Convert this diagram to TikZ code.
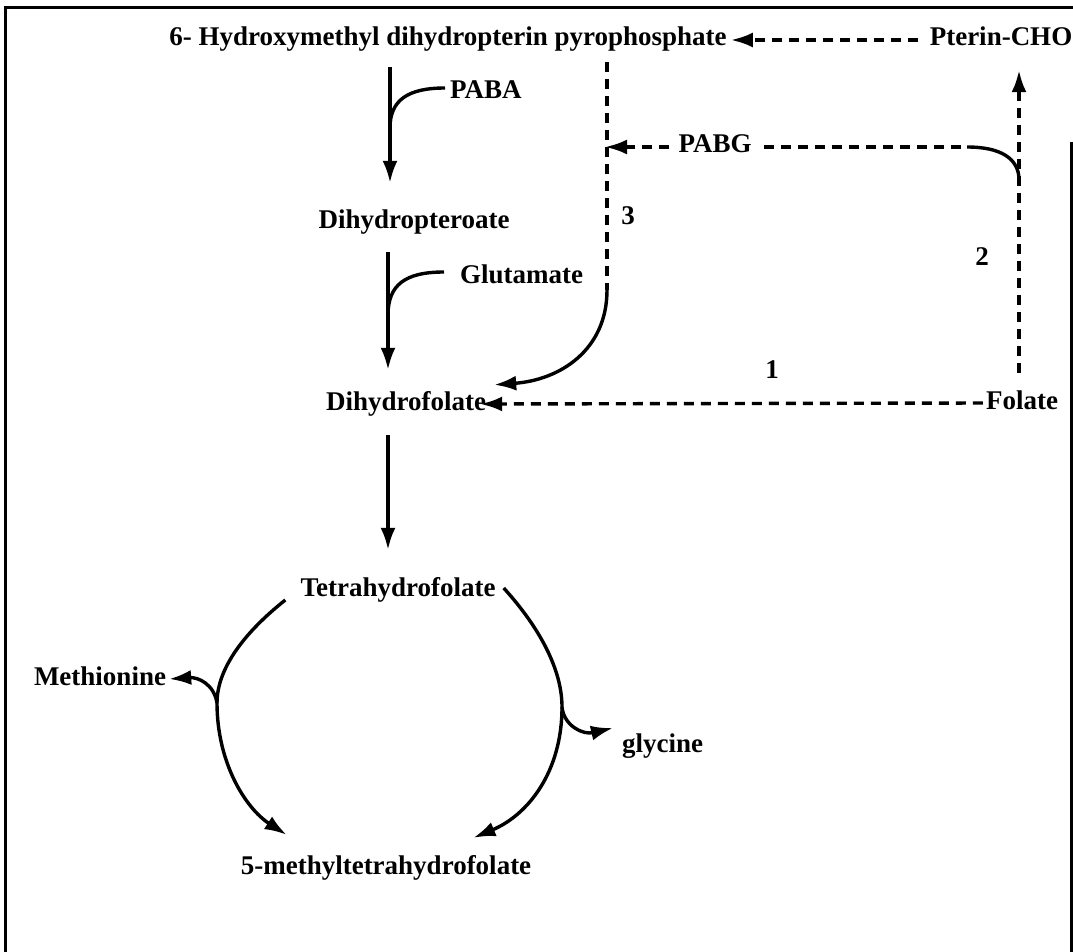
\documentclass[tikz,border=0pt]{standalone}
\usepackage{fontspec}
\setmainfont{Liberation Serif}
\usetikzlibrary{arrows.meta}
\begin{document}
\begin{tikzpicture}[x=1pt,y=-1pt,
  lbl/.style={font=\fontsize{27}{30}\selectfont\bfseries, inner sep=0pt, text height=18pt, text depth=6pt},
  ln/.style={line width=3.4pt},
  arr/.style={line width=3.4pt, -{Latex[length=22pt,width=15pt]}},
  dsh/.style={dash pattern=on 10pt off 7pt}]
\useasboundingbox (0,0) rectangle (1073,952);
% frame
\draw[line width=3pt] (5,952) -- (5,8) -- (1073,8);
\draw[line width=3pt] (1071,142) -- (1071,952);
% nodes
\node[lbl] (hmdp) at (448,40) {6- Hydroxymethyl dihydropterin pyrophosphate};
\node[lbl] (pterin) at (1001,40) {Pterin-CHO};
\node[lbl, anchor=west] (paba) at (450,93) {PABA};
\node[lbl] (dhp) at (414,222) {Dihydropteroate};
\node[lbl, anchor=west] (glu) at (460,277) {Glutamate};
\node[lbl] (dhf) at (406,404) {Dihydrofolate};
\node[lbl] (pabg) at (715,147) {PABG};
\node[lbl] (folate) at (1022,403) {Folate};
\node[lbl] (n3) at (628,219) {3};
\node[lbl] (n2) at (982,259) {2};
\node[lbl] (n1) at (772,372) {1};
\node[lbl] (thf) at (398,590) {Tetrahydrofolate};
\node[lbl] (met) at (100,679) {Methionine};
\node[lbl, anchor=west] (gly) at (622,746) {glycine};
\node[lbl] (mthf) at (386,868) {5-methyltetrahydrofolate};
% helper coordinates
\coordinate (stem) at (390,0);
\coordinate (v3) at (607,290);
\coordinate (j1) at (390,128);
\coordinate (j0) at (388,315);
\coordinate (k2) at (967,147);
\coordinate (j2) at (1019,180);
\coordinate (jl) at (217,703);
\coordinate (jr) at (562,707);
% main chain
\draw[arr, shorten <=15pt, shorten >=27pt] (hmdp.south -| stem) -- (dhp.north -| stem);
\draw[ln] ([shift={(-5pt,5pt)}]paba.west) .. controls (408,88) and (390,100) .. (j1);
\draw[arr, shorten <=18pt, shorten >=22pt] (dhp.south -| j0) -- (dhf.north -| j0);
\draw[ln] ([shift={(-16pt,5pt)}]glu.west) .. controls (405,272) and (388,285) .. (j0);
\draw[arr, shorten <=19pt, shorten >=28pt] (dhf.south -| j0) -- (thf.north -| j0);
% salvage pathway
\draw[arr, dsh, shorten <=12pt, shorten >=4pt] (pterin.west) -- (hmdp.east);
\draw[dsh, ln, shorten <=10pt] (hmdp.south -| v3) -- (v3);
\draw[arr] (v3) .. controls (607,350) and (560,380) .. ([shift={(8pt,7pt)}]dhf.north east);
\draw[arr, dsh, shorten <=9pt, shorten >=-2pt] (pabg.west) -- (pabg.west -| v3);
\draw[dsh, ln, shorten <=12pt] (pabg.east) -- (k2);
\draw[ln] (k2) .. controls (1000,147) and (1019,158) .. (j2);
\draw[arr, dsh, shorten <=18pt, shorten >=18pt] (folate.north -| j2) -- (pterin.south -| j2);
\draw[arr, dsh, shorten <=3pt, shorten >=-6pt] (folate.west) -- (dhf.east);
% cycle
\draw[ln] ([shift={(-15pt,-10pt)}]thf.west) .. controls (245,632) and (217,668) .. (jl);
\draw[arr] (jl) .. controls (217,762) and (245,808) .. ([shift={(46pt,21pt)}]mthf.north west);
\draw[arr] (jl) .. controls (214,684) and (198,677) .. ([xshift=3pt]met.east);
\draw[ln] ([shift={(8pt,2pt)}]thf.east) .. controls (540,628) and (562,670) .. (jr);
\draw[arr] (jr) .. controls (562,772) and (528,815) .. ([shift={(-58pt,18pt)}]mthf.north east);
\draw[arr] (jr) .. controls (564,726) and (583,735) .. ([shift={(-9pt,18pt)}]gly.west);
\end{tikzpicture}
\end{document}
